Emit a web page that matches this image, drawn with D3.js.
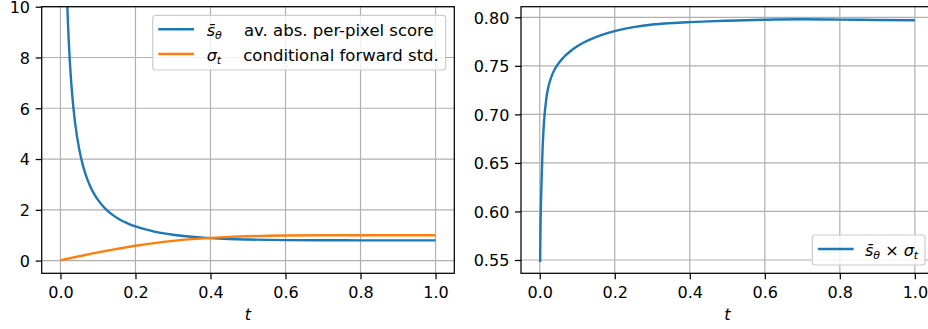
<!DOCTYPE html>
<html>
<head>
<meta charset="UTF-8">
<script src="https://d3js.org/d3.v7.min.js"></script>
<style>
  body { margin: 0; background: #fff; }
  svg text { font-family: "DejaVu Sans", sans-serif; fill: #000; }
  .grid line { stroke: #b0b0b0; stroke-width: 1.2; }
  .spine { fill: none; stroke: #000; stroke-width: 1.25; }
  .curve { fill: none; stroke-width: 2.4; stroke-linejoin: round; stroke-linecap: butt; }
</style>
</head>
<body>
<div id="chart"></div>
<script>
// values
var tValues = [0, 0.001, 0.002, 0.003, 0.005, 0.0075, 0.01, 0.0125, 0.015, 0.0175,
  0.02, 0.025, 0.03, 0.035, 0.04, 0.05, 0.06, 0.07, 0.08, 0.09,
  0.1, 0.12, 0.14, 0.16, 0.18, 0.2, 0.25, 0.3, 0.35, 0.4,
  0.45, 0.5, 0.6, 0.7, 0.8, 0.9, 1.0];

// conditional forward std (orange)
var sigmaValues = [0, 0.0105, 0.0155, 0.0197, 0.0274, 0.0362, 0.0446, 0.0529, 0.0611, 0.0692,
  0.0772, 0.0932, 0.1090, 0.1248, 0.1404, 0.1716, 0.2024, 0.2329, 0.2630, 0.2928,
  0.3221, 0.3792, 0.4343, 0.4870, 0.5371, 0.5845, 0.6902, 0.7770, 0.8453, 0.8969,
  0.9341, 0.9597, 0.9868, 0.9964, 0.9992, 0.9999, 1.0];

// av. abs. per-pixel score (blue, left)
var scoreValues = [null, 52.2, 37.8, 30.6, 23.1, 18.34, 15.34, 13.19, 11.59, 10.35,
  9.36, 7.85, 6.77, 5.96, 5.32, 4.39, 3.74, 3.27, 2.91, 2.62,
  2.39, 2.04, 1.79, 1.60, 1.46, 1.344, 1.144, 1.02, 0.939, 0.886,
  0.852, 0.830, 0.808, 0.801, 0.798, 0.797, 0.797];

// score x std (blue, right)
var productValues = [null, 0.548, 0.585, 0.605, 0.633, 0.664, 0.684, 0.698, 0.708, 0.716,
  0.7225, 0.7315, 0.7375, 0.7425, 0.7465, 0.7525, 0.7572, 0.7612, 0.7645, 0.7675,
  0.7702, 0.7745, 0.778, 0.781, 0.7836, 0.7858, 0.7898, 0.7925, 0.794, 0.795,
  0.7958, 0.7965, 0.7975, 0.7979, 0.7976, 0.7972, 0.7969];

var xTicks = [0, 0.2, 0.4, 0.6, 0.8, 1.0];
var leftYTicks = [0, 2, 4, 6, 8, 10];
var rightYTicks = [0.55, 0.60, 0.65, 0.70, 0.75, 0.80];

var blue = "#1f77b4", orange = "#ff7f0e";

var W = 928, H = 329;
var svg = d3.select("#chart").append("svg")
    .attr("width", W)
    .attr("height", H);

function drawPanel(opts) {
  var x = d3.scaleLinear().domain([-0.05, 1.05]).range([opts.left, opts.right]);
  var y = d3.scaleLinear().domain(opts.yDomain).range([opts.bottom, opts.top]);
  var g = svg.append("g");

  var clipId = "clip" + opts.id;
  svg.append("clipPath").attr("id", clipId)
    .append("rect")
    .attr("x", opts.left).attr("y", opts.top)
    .attr("width", opts.right - opts.left).attr("height", opts.bottom - opts.top);

  // grid
  var grid = g.append("g").attr("class", "grid");
  grid.selectAll(".gx").data(xTicks).enter().append("line")
    .attr("x1", d => x(d)).attr("x2", d => x(d))
    .attr("y1", opts.top).attr("y2", opts.bottom);
  grid.selectAll(".gy").data(opts.yTicks).enter().append("line")
    .attr("x1", opts.left).attr("x2", opts.right)
    .attr("y1", d => y(d)).attr("y2", d => y(d));

  // curves
  var lines = g.append("g").attr("clip-path", "url(#" + clipId + ")");
  opts.series.forEach(function(s) {
    var pts = tValues.map((t, i) => ({t: t, v: s.values[i]}));
    var line = d3.line()
      .defined(d => d.v != null)
      .x(d => x(d.t))
      .y(d => y(d.v))
      .curve(d3.curveMonotoneX);
    lines.append("path")
      .attr("class", "curve")
      .attr("stroke", s.color)
      .attr("d", line(pts));
  });

  // axes
  var xAxis = d3.axisBottom(x).tickValues(xTicks).tickFormat(d3.format(".1f"))
    .tickSizeInner(6).tickSizeOuter(0).tickPadding(7);
  var yAxis = d3.axisLeft(y).tickValues(opts.yTicks).tickFormat(d3.format(opts.yFormat))
    .tickSizeInner(6).tickSizeOuter(0).tickPadding(5.7);

  var gx = g.append("g").attr("transform", "translate(0," + opts.bottom + ")").call(xAxis);
  var gy = g.append("g").attr("transform", "translate(" + opts.left + ",0)").call(yAxis);
  [gx, gy].forEach(function(a) {
    a.select(".domain").remove();
    a.selectAll(".tick line").attr("stroke", "#000").attr("stroke-width", 1.25);
    a.selectAll(".tick text").attr("font-size", 16).attr("font-family", "DejaVu Sans").attr("fill", "#000");
  });
  gy.selectAll(".tick text").attr("dy", "0.36em");

  g.append("rect").attr("class", "spine")
    .attr("x", opts.left).attr("y", opts.top)
    .attr("width", opts.right - opts.left).attr("height", opts.bottom - opts.top);

  // x label
  g.append("text")
    .attr("x", (opts.left + opts.right) / 2)
    .attr("y", 320)
    .attr("text-anchor", "middle")
    .attr("font-size", 16)
    .attr("font-style", "italic")
    .text("t");

  return {x: x, y: y, g: g};
}

// s-bar-theta style label as tspans
function mathLabel(sel, parts) {
  parts.forEach(function(p) {
    var ts = sel.append("tspan").text(p.text);
    if (p.italic) ts.attr("font-style", "italic");
    if (p.size) ts.attr("font-size", p.size);
    if (p.dy) ts.attr("dy", p.dy);
    if (p.dx) ts.attr("dx", p.dx);
  });
}

function legend(box, rows) {
  var lg = svg.append("g");
  lg.append("rect")
    .attr("x", box.x).attr("y", box.y)
    .attr("width", box.w).attr("height", box.h)
    .attr("rx", 3)
    .attr("fill", "#fff").attr("fill-opacity", 0.8)
    .attr("stroke", "#cccccc").attr("stroke-width", 1.2);
  rows.forEach(function(r) {
    lg.append("line")
      .attr("x1", box.x + 5.6).attr("x2", box.x + 41.3)
      .attr("y1", r.y).attr("y2", r.y)
      .attr("stroke", r.color).attr("stroke-width", 2.4);
    var t = lg.append("text")
      .attr("x", r.symX).attr("y", r.y + 6.5)
      .attr("font-size", 16);
    mathLabel(t, r.sym);
    if (r.label) {
      lg.append("text")
        .attr("x", r.labelX).attr("y", r.y + 6.5)
        .attr("font-size", 16.5)
        .text(r.label);
    }
  });
}

var axTop = 6.7, axBottom = 273.3;

drawPanel({
  id: "L", left: 41.7, right: 454.3, top: axTop, bottom: axBottom,
  yDomain: [-0.5, 10], yTicks: leftYTicks, yFormat: "d",
  series: [{values: scoreValues, color: blue}, {values: sigmaValues, color: orange}]
});

drawPanel({
  id: "R", left: 521, right: 933.6, top: axTop, bottom: axBottom,
  yDomain: [0.5363, 0.8109], yTicks: rightYTicks, yFormat: ".2f",
  series: [{values: productValues, color: blue}]
});

var sBar = [{text: "s\u0304", italic: true}, {text: "\u03b8", italic: true, size: 11, dy: 3.5}];
var sigT = [{text: "\u03c3", italic: true}, {text: "t", italic: true, size: 11, dy: 3.5}];

legend({x: 152.7, y: 15.3, w: 293, h: 54.7}, [
  {y: 29.3, color: blue, symX: 206.7, sym: sBar, labelX: 244, label: "av. abs. per-pixel score"},
  {y: 54, color: orange, symX: 206.7, sym: sigT, labelX: 243.3, label: "conditional forward std."}
]);

legend({x: 812.3, y: 235, w: 112.7, h: 30}, [
  {y: 249, color: blue, symX: 865, sym: sBar.concat([
    {text: " \u00d7 ", italic: false, size: 16, dy: -3.5},
    {text: "\u03c3", italic: true, size: 16},
    {text: "t", italic: true, size: 11, dy: 3.5}
  ])}
]);
</script>
</body>
</html>
